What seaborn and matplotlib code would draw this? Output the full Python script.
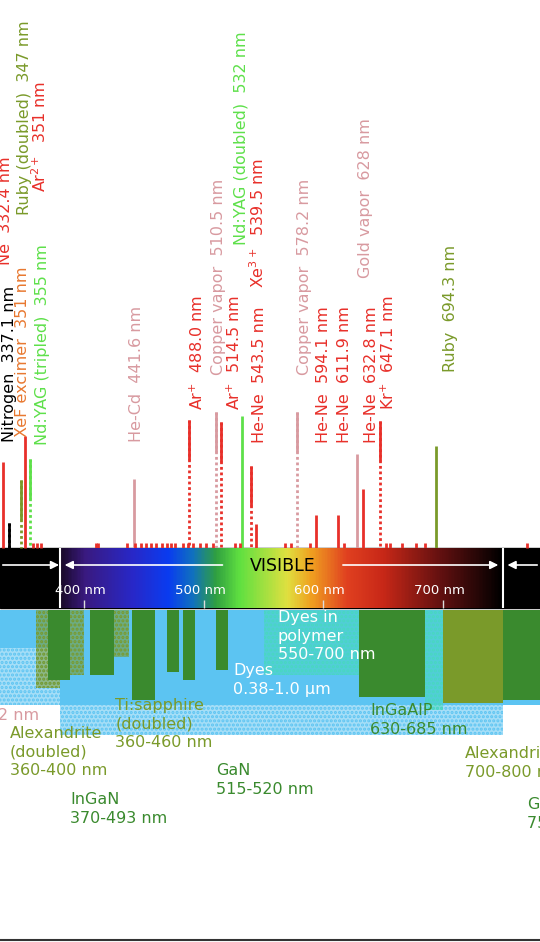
import matplotlib

matplotlib.use("Agg")

import matplotlib.pyplot as plt
import numpy as np
import seaborn as sns
from matplotlib.colors import LinearSegmentedColormap

sns.set_theme(style="white")
plt.rcParams["font.family"] = ["DejaVu Sans"]
plt.rcParams["hatch.linewidth"] = 1.5

RED = "#e8302a"
PINK = "#d89aa0"
GREEN = "#5ee04a"
OLIVE = "#7a9a2a"
ORANGE = "#e87830"
DKGREEN = "#3a8a2e"
BLUE = "#5cc4f2"
TEAL = "#48d8c0"

# laser lines: wavelength (nm), top of line (px row), colour, dotted part
line_nm = [332.4, 337.1, 347.0, 351.0, 355.0, 441.6, 488.0, 510.5, 514.5,
           532.0, 539.5, 543.5, 578.2, 594.1, 611.9, 628.0, 632.8, 647.1, 694.3]
line_top = [462, 523, 480, 436, 459, 479, 420, 412, 422,
            416, 466, 524, 412, 515, 515, 454, 489, 421, 446]
line_color = [RED, "black", OLIVE, RED, GREEN, PINK, RED, PINK, RED,
              GREEN, RED, RED, PINK, RED, RED, PINK, RED, RED, OLIVE]
line_dotted = [False, True, True, False, True, False, True, True, True,
               False, True, False, True, False, False, False, False, True, False]

# labels: text, x position (nm), bottom of text (px row), colour
label_text = ["Ne  332.4 nm", "Nitrogen  337.1 nm", "XeF excimer  351 nm",
              "Ruby (doubled)  347 nm", "Ar$^{2+}$  351 nm", "Nd:YAG (tripled)  355 nm",
              "He-Cd  441.6 nm", "Ar$^{+}$  488.0 nm", "Copper vapor  510.5 nm",
              "Ar$^{+}$  514.5 nm", "Nd:YAG (doubled)  532 nm", "Xe$^{3+}$  539.5 nm",
              "He-Ne  543.5 nm", "Copper vapor  578.2 nm", "He-Ne  594.1 nm",
              "He-Ne  611.9 nm", "Gold vapor  628 nm", "He-Ne  632.8 nm",
              "Kr$^{+}$  647.1 nm", "Ruby  694.3 nm"]
label_nm = [334.0, 338.0, 349.0, 350.0, 363.0, 365.0,
            444.0, 494.5, 512.0, 525.5, 531.0, 545.0,
            547.0, 584.0, 600.0, 618.0, 635.0, 640.5, 654.0, 706.0]
label_y = [265, 442, 437, 215, 192, 445,
           442, 410, 375, 410, 245, 288,
           443, 375, 443, 443, 278, 443, 410, 372]
label_color = [RED, "black", ORANGE, OLIVE, RED, GREEN,
               PINK, RED, PINK, RED, GREEN, RED,
               RED, PINK, RED, RED, PINK, RED, RED, OLIVE]

# minor lines along the baseline
minor_nm = [357, 361, 364, 410, 412, 436, 443, 448, 452, 456, 460, 465, 469, 473,
            476, 483, 487, 491, 497, 502, 508, 526, 530, 568, 573, 589, 617, 652,
            656, 666, 677, 685, 770]

# visible spectrum colour stops
spec_nm = [380, 400, 440, 470, 490, 510, 530, 570, 590, 620, 650, 700, 750]
spec_col = ["#1a0a2a", "#3a1a80", "#2828c8", "#0a3cf0", "#1070c0", "#30a040",
            "#60e040", "#e0e040", "#f0a020", "#e04020", "#c82818", "#601010", "#000000"]

# gain media blocks: start nm, end nm, top px, bottom px, colour, hatch
block_lo = [329.8, 329.8, 380, 380, 360, 370, 388, 405, 425, 440, 469, 483, 510,
            550, 630, 685, 700, 750]
block_hi = [380, 380, 781, 750, 380, 388, 400, 425, 438, 459, 479, 493, 520,
            685, 685, 700, 750, 781]
block_top = [610, 648, 610, 705, 610, 610, 610, 610, 610, 610, 610, 610, 610,
             610, 610, 610, 610, 610]
block_bot = [648, 705, 705, 735, 688, 680, 675, 675, 657, 700, 672, 680, 670,
             675, 697, 710, 703, 700]
block_col = [BLUE, BLUE, BLUE, BLUE, OLIVE, DKGREEN, OLIVE, DKGREEN, OLIVE, DKGREEN,
             DKGREEN, DKGREEN, DKGREEN, TEAL, DKGREEN, TEAL, OLIVE, DKGREEN]
block_hatch = [None, "....", None, "....", "....", None, "....", None, "....", None,
               None, None, None, "....", None, "....", None, None]

# gain media labels: text, nm, top px, colour
gm_text = ["2 nm", "Alexandrite\n(doubled)\n360-400 nm", "InGaN\n370-493 nm",
           "Ti:sapphire\n(doubled)\n360-460 nm", "Dyes\n0.38-1.0 µm",
           "Dyes in\npolymer\n550-700 nm", "GaN\n515-520 nm", "InGaAlP\n630-685 nm",
           "Alexandrite\n700-800 nm", "GaAs\n750-850 nm"]
gm_nm = [328.5, 338.0, 388.5, 426.0, 524.5, 562.0, 510.5, 639.0, 718.0, 770.5]
gm_y = [708, 726, 792, 698, 663, 610, 763, 703, 746, 797]
gm_color = [PINK, OLIVE, DKGREEN, OLIVE, "white", "white", DKGREEN, DKGREEN, OLIVE, DKGREEN]

fig = plt.figure(figsize=(5.4, 9.42), dpi=100)
ax = fig.add_axes([0, 0, 1, 1])
ax.set_xlim(329.8, 781)
ax.set_ylim(942, 0)
ax.axis("off")

base = 548
for nm, top, col, dot in zip(line_nm, line_top, line_color, line_dotted):
    if dot:
        ax.vlines(nm, top, base, color=col, lw=2, linestyles=(0, (1, 1)))
        ax.vlines(nm, top, top + 40, color=col, lw=2)
    else:
        ax.vlines(nm, top, base, color=col, lw=2)
ax.vlines(minor_nm, base - 5, base, color=RED, lw=2)

for t, nm, y, col in zip(label_text, label_nm, label_y, label_color):
    ax.text(nm, y, t, rotation=90, ha="center", va="bottom", color=col, fontsize=11.5)

# spectrum band
ax.axvspan(329.8, 781, ymin=1 - 608 / 942, ymax=1 - 548 / 942, color="black")
cmap = LinearSegmentedColormap.from_list(
    "vis", list(zip([(n - 380) / 370 for n in spec_nm], spec_col)))
ax.imshow(np.linspace(0, 1, 400)[None, :], cmap=cmap, aspect="auto",
          extent=(380, 750, 608, 548), zorder=2)
ax.vlines([380, 750], 548, 608, color="white", lw=1.5, zorder=3)
arrow = dict(arrowstyle="-|>", color="white", lw=1.2)
ax.annotate("", xy=(381.5, 565), xytext=(329.8, 565), arrowprops=arrow, zorder=4)
ax.annotate("", xy=(751.5, 565), xytext=(781, 565), arrowprops=arrow, zorder=4)
ax.annotate("", xy=(381.5, 565), xytext=(518, 565), arrowprops=arrow, zorder=4)
ax.annotate("", xy=(748.5, 565), xytext=(614, 565), arrowprops=arrow, zorder=4)
ax.text(566, 566, "VISIBLE", ha="center", va="center", fontsize=12.5, color="black", zorder=4)
for tick in [400, 500, 600, 700]:
    ax.text(tick - 3, 590, f"{tick} nm", ha="center", va="center", color="white",
            fontsize=9.5, zorder=4)
    ax.vlines(tick, 600, 608, color="#dddddd", lw=1, zorder=4)

# gain media
for lo, hi, top, bot, col, h in zip(block_lo, block_hi, block_top, block_bot,
                                     block_col, block_hatch):
    if h:
        ax.bar(lo, bot - top, width=hi - lo, bottom=top, align="edge",
               color=col, alpha=0.55, lw=0)
        ax.bar(lo, bot - top, width=hi - lo, bottom=top, align="edge",
               color="none", edgecolor=col, hatch=h, lw=0)
    else:
        ax.bar(lo, bot - top, width=hi - lo, bottom=top, align="edge", color=col, lw=0)

for t, nm, y, col in zip(gm_text, gm_nm, gm_y, gm_color):
    ax.text(nm, y, t, ha="left", va="top", color=col, fontsize=11.5, linespacing=1.3)

ax.axhline(940, color="#333333", lw=1.5)

fig.savefig("out.png", dpi=100)
